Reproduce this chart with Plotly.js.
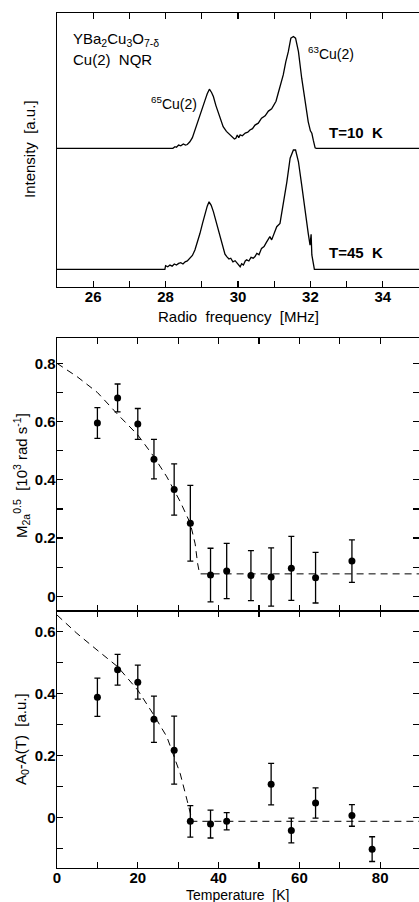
<!DOCTYPE html>
<html>
<head>
<meta charset="utf-8">
<script src="https://cdn.plot.ly/plotly-3.0.1.min.js"></script>
<style>
html,body{margin:0;padding:0;background:#fff;}
#chart{width:419px;height:902px;}
</style>
</head>
<body>
<div id="chart"></div>
<script>
// ---------- DATA ----------
// Top panel: Cu(2) NQR spectra (frequency in MHz, intensity in a.u., curves offset as drawn)
const freq10 = [25.0, 28.2, 28.26, 28.3, 28.36, 28.42, 28.49, 28.55, 28.6, 28.67, 28.74, 28.81, 28.88, 28.95, 29.02, 29.09, 29.15, 29.21, 29.27, 29.32, 29.39, 29.46, 29.52, 29.59, 29.68, 29.78, 29.85, 29.9, 29.94, 29.98, 30.02, 30.06, 30.12, 30.2, 30.27, 30.33, 30.4, 30.47, 30.56, 30.65, 30.75, 30.84, 30.93, 30.98, 31.05, 31.11, 31.18, 31.25, 31.32, 31.39, 31.46, 31.53, 31.59, 31.67, 31.76, 31.85, 31.94, 32.0, 32.04, 32.08, 32.13, 32.16, 35.0];
const int10 = [5.06, 5.06, 5.12, 5.10, 5.18, 5.15, 5.22, 5.18, 5.20, 5.30, 5.45, 5.73, 6.02, 6.34, 6.58, 6.82, 7.05, 7.22, 7.10, 6.95, 6.62, 6.34, 6.08, 5.85, 5.68, 5.55, 5.48, 5.40, 5.43, 5.55, 5.45, 5.55, 5.52, 5.62, 5.65, 5.73, 5.78, 5.91, 5.98, 6.16, 6.25, 6.42, 6.50, 6.64, 6.78, 7.07, 7.40, 7.74, 8.22, 8.59, 9.08, 9.14, 9.08, 8.59, 7.62, 6.76, 6.03, 5.70, 5.61, 5.36, 5.08, 5.06, 5.06];
const freq45 = [25.0, 27.98, 28.0, 28.06, 28.12, 28.18, 28.24, 28.3, 28.36, 28.42, 28.48, 28.54, 28.6, 28.67, 28.74, 28.81, 28.88, 28.95, 29.02, 29.09, 29.15, 29.2, 29.26, 29.32, 29.39, 29.46, 29.52, 29.59, 29.64, 29.69, 29.75, 29.8, 29.86, 29.92, 29.98, 30.02, 30.06, 30.1, 30.15, 30.2, 30.24, 30.3, 30.36, 30.42, 30.47, 30.52, 30.58, 30.65, 30.72, 30.78, 30.84, 30.88, 30.93, 31.0, 31.07, 31.16, 31.25, 31.35, 31.44, 31.53, 31.59, 31.67, 31.76, 31.85, 31.94, 31.99, 32.02, 32.04, 32.08, 32.11, 35.0];
const int45 = [0.645, 0.645, 0.78, 0.74, 0.80, 0.76, 0.84, 0.80, 0.86, 0.89, 0.84, 0.92, 0.95, 1.05, 1.15, 1.35, 1.62, 1.96, 2.32, 2.69, 2.95, 3.11, 2.98, 2.75, 2.40, 2.08, 1.70, 1.35, 1.20, 1.11, 1.02, 1.05, 0.92, 0.96, 0.86, 0.80, 0.74, 0.85, 0.80, 0.95, 0.99, 0.95, 1.08, 1.05, 1.11, 1.23, 1.18, 1.41, 1.48, 1.62, 1.78, 1.84, 1.72, 1.95, 2.20, 2.32, 2.99, 3.84, 4.70, 5.00, 5.00, 4.57, 3.72, 2.75, 1.96, 1.53, 1.92, 1.17, 0.80, 0.645, 0.645];

// Middle panel: M2a^0.5 vs temperature
const tempM = [10, 15, 20, 24, 29, 33, 38, 42, 48, 53, 58, 64, 73];
const m2a = [0.595, 0.681, 0.592, 0.471, 0.367, 0.251, 0.073, 0.087, 0.071, 0.066, 0.096, 0.064, 0.121];
const m2aErr = [0.053, 0.048, 0.053, 0.068, 0.088, 0.13, 0.092, 0.095, 0.086, 0.10, 0.11, 0.087, 0.073];
const fitMT = [0, 5, 10, 13.4, 15, 20, 24, 27.2, 30.5, 33, 34.2, 34.8, 35.3, 89.6];
const fitMV = [0.80, 0.754, 0.70, 0.649, 0.625, 0.554, 0.479, 0.41, 0.325, 0.25, 0.18, 0.113, 0.077, 0.077];

// Bottom panel: A0-A(T) vs temperature
const tempA = [10, 15, 20, 24, 29, 33, 38, 42, 53, 58, 64, 73, 78];
const aVal = [0.388, 0.477, 0.437, 0.317, 0.217, -0.013, -0.022, -0.013, 0.107, -0.043, 0.046, 0.006, -0.103];
const aErr = [0.062, 0.05, 0.055, 0.075, 0.11, 0.051, 0.045, 0.028, 0.067, 0.04, 0.049, 0.035, 0.04];
const fitAT = [0, 4.9, 9.9, 15, 20, 24, 27.2, 30.5, 32.2, 33, 33.5, 89.6];
const fitAV = [0.654, 0.595, 0.541, 0.487, 0.411, 0.330, 0.26, 0.141, 0.055, 0.012, -0.013, -0.013];

// Tick values / labels (major = labelled, minor = unlabelled ticks)
const freqTicks = [26, 28, 30, 32, 34];
const freqLabels = ['26', '28', '30', '32', '34'];
const freqMinor = [25, 27, 29, 31, 33, 35];
const tempTicks = [0, 20, 40, 60, 80];
const tempLabels = ['0', '20', '40', '60', '80'];
const tempMinor = [10, 30, 50, 70];
const mTicks = [0, 0.2, 0.4, 0.6, 0.8];
const mLabels = ['0', '0.2', '0.4', '0.6', '0.8'];
const mMinor = [0.1, 0.3, 0.5, 0.7];
const aTicks = [0, 0.2, 0.4, 0.6];
const aLabels = ['0', '0.2', '0.4', '0.6'];
const aMinor = [-0.1, 0.1, 0.3, 0.5];

// ---------- LAYOUT ----------
const W = 419, H = 902, L = 57, R = 0, T = 13, B = 34;
const PW = W - L - R, PH = H - T - B;
const px = x => (x - L) / PW;
const py = y => (H - B - y) / PH;

const FONT = 'Liberation Sans, Arial, Helvetica, sans-serif';
const tickFont = {family: FONT, size: 15, color: '#000', weight: 700};

const lineStyle = {color: '#000', width: 1.3};
const dataMarker = {symbol: 'circle', size: 7, color: '#000'};
const errStyle = (arr) => ({type: 'data', array: arr, visible: true, color: '#000', thickness: 1.3, width: 3});
const fitLine = {color: '#000', width: 1, dash: '7px,5px'};

const MR = [-0.0505, 0.886];   // middle panel y range
const AR = [-0.164, 0.667];    // bottom panel y range

const traces = [
  {x: freq10, y: int10, type: 'scatter', mode: 'lines', line: lineStyle, xaxis: 'x', yaxis: 'y', hoverinfo: 'skip'},
  {x: freq45, y: int45, type: 'scatter', mode: 'lines', line: lineStyle, xaxis: 'x', yaxis: 'y', hoverinfo: 'skip'},
  {x: fitMT, y: fitMV, type: 'scatter', mode: 'lines', line: fitLine, xaxis: 'x2', yaxis: 'y2'},
  {x: tempM, y: m2a, type: 'scatter', mode: 'markers', marker: dataMarker, error_y: errStyle(m2aErr), xaxis: 'x2', yaxis: 'y2'},
  {x: fitAT, y: fitAV, type: 'scatter', mode: 'lines', line: fitLine, xaxis: 'x3', yaxis: 'y3'},
  {x: tempA, y: aVal, type: 'scatter', mode: 'markers', marker: dataMarker, error_y: errStyle(aErr), xaxis: 'x3', yaxis: 'y3'},
  // empty traces so the right-hand tick axes exist
  {x: [], y: [], type: 'scatter', mode: 'markers', xaxis: 'x2', yaxis: 'y4', showlegend: false},
  {x: [], y: [], type: 'scatter', mode: 'markers', xaxis: 'x3', yaxis: 'y5', showlegend: false}
];

const minorOf = vals => ({tickmode: 'array', tickvals: vals, ticks: 'inside', ticklen: 6, tickwidth: 1.2, tickcolor: '#000', showgrid: false});

const axBase = {
  showline: true, linecolor: '#000', linewidth: 1.3, mirror: 'ticks',
  ticks: 'inside', ticklen: 6, tickwidth: 1.2, tickcolor: '#000',
  showgrid: false, zeroline: false, tickfont: tickFont, fixedrange: true
};

const layout = {
  width: W, height: H,
  margin: {l: L, r: R, t: T, b: B, pad: 0},
  paper_bgcolor: '#fff', plot_bgcolor: '#fff',
  showlegend: false,
  font: {family: FONT, color: '#000'},
  xaxis: Object.assign({}, axBase, {domain: [0, 1], anchor: 'y', range: [25, 35],
    tickmode: 'array', tickvals: freqTicks, ticktext: freqLabels, minor: minorOf(freqMinor), ticklabelstandoff: -4}),
  yaxis: Object.assign({}, axBase, {domain: [py(287), 1], anchor: 'x', range: [0, 10],
    ticks: '', showticklabels: false, mirror: true}),
  xaxis2: Object.assign({}, axBase, {domain: [0, 1], anchor: 'y2', range: [0, 89.6],
    tickmode: 'array', tickvals: tempTicks, showticklabels: false, minor: minorOf(tempMinor)}),
  yaxis2: Object.assign({}, axBase, {domain: [py(611), py(338.3)], anchor: 'x2', range: MR, mirror: false,
    tickmode: 'array', tickvals: mTicks, ticktext: mLabels, minor: minorOf(mMinor), ticklabelstandoff: -3}),
  yaxis4: Object.assign({}, axBase, {overlaying: 'y2', side: 'right', anchor: 'x2', range: MR, showline: false, mirror: false,
    tickmode: 'array', tickvals: mTicks, showticklabels: false, minor: minorOf(mMinor)}),
  xaxis3: Object.assign({}, axBase, {domain: [0, 1], anchor: 'y3', range: [0, 89.6],
    tickmode: 'array', tickvals: tempTicks, ticktext: tempLabels, minor: minorOf(tempMinor), ticklabelstandoff: -4}),
  yaxis3: Object.assign({}, axBase, {domain: [0, py(611)], anchor: 'x3', range: AR, mirror: false,
    tickmode: 'array', tickvals: aTicks, ticktext: aLabels, minor: minorOf(aMinor), ticklabelstandoff: -3}),
  yaxis5: Object.assign({}, axBase, {overlaying: 'y3', side: 'right', anchor: 'x3', range: AR, showline: false, mirror: false,
    tickmode: 'array', tickvals: aTicks, showticklabels: false, minor: minorOf(aMinor)}),
  annotations: []
};

const ann = (text, x, y, opts) => Object.assign({
  text: text, xref: 'paper', yref: 'paper', x: px(x), y: py(y),
  showarrow: false, xanchor: 'left', yanchor: 'middle',
  font: {family: FONT, size: 15, color: '#000'}
}, opts || {});

layout.annotations.push(
  ann('YBa<sub>2</sub>Cu<sub>3</sub>O<sub>7-δ</sub>', 71, 40),
  ann('Cu(2)\u00a0\u00a0NQR', 71, 60),
  ann('<sup>65</sup>Cu(2)', 149, 103, {font: {family: FONT, size: 14, color: '#000'}}),
  ann('<sup>63</sup>Cu(2)', 306, 53, {font: {family: FONT, size: 14, color: '#000'}}),
  ann('T=10\u00a0\u00a0K', 327, 132, {font: {family: FONT, size: 15, color: '#000', weight: 700}}),
  ann('T=45\u00a0\u00a0K', 327, 252, {font: {family: FONT, size: 15, color: '#000', weight: 700}}),
  ann('Intensity\u00a0\u00a0[a.u.]', 29, 149, {xanchor: 'center', textangle: -90}),
  ann('Radio\u00a0\u00a0frequency\u00a0\u00a0[MHz]', 238, 316, {xanchor: 'center'}),
  ann('M<sub>2a</sub><sup>0.5</sup>\u00a0\u00a0[10<sup>3</sup> rad s<sup>-1</sup>]', 21, 476, {xanchor: 'center', textangle: -90}),
  ann('A<sub>0</sub>-A(T)\u00a0\u00a0[a.u.]', 21, 739, {xanchor: 'center', textangle: -90}),
  ann('Temperature\u00a0\u00a0[K]', 238, 895, {xanchor: 'center', font: {family: FONT, size: 14, color: '#000'}})
);

Plotly.newPlot('chart', traces, layout, {staticPlot: true, displayModeBar: false});
</script>
</body>
</html>
